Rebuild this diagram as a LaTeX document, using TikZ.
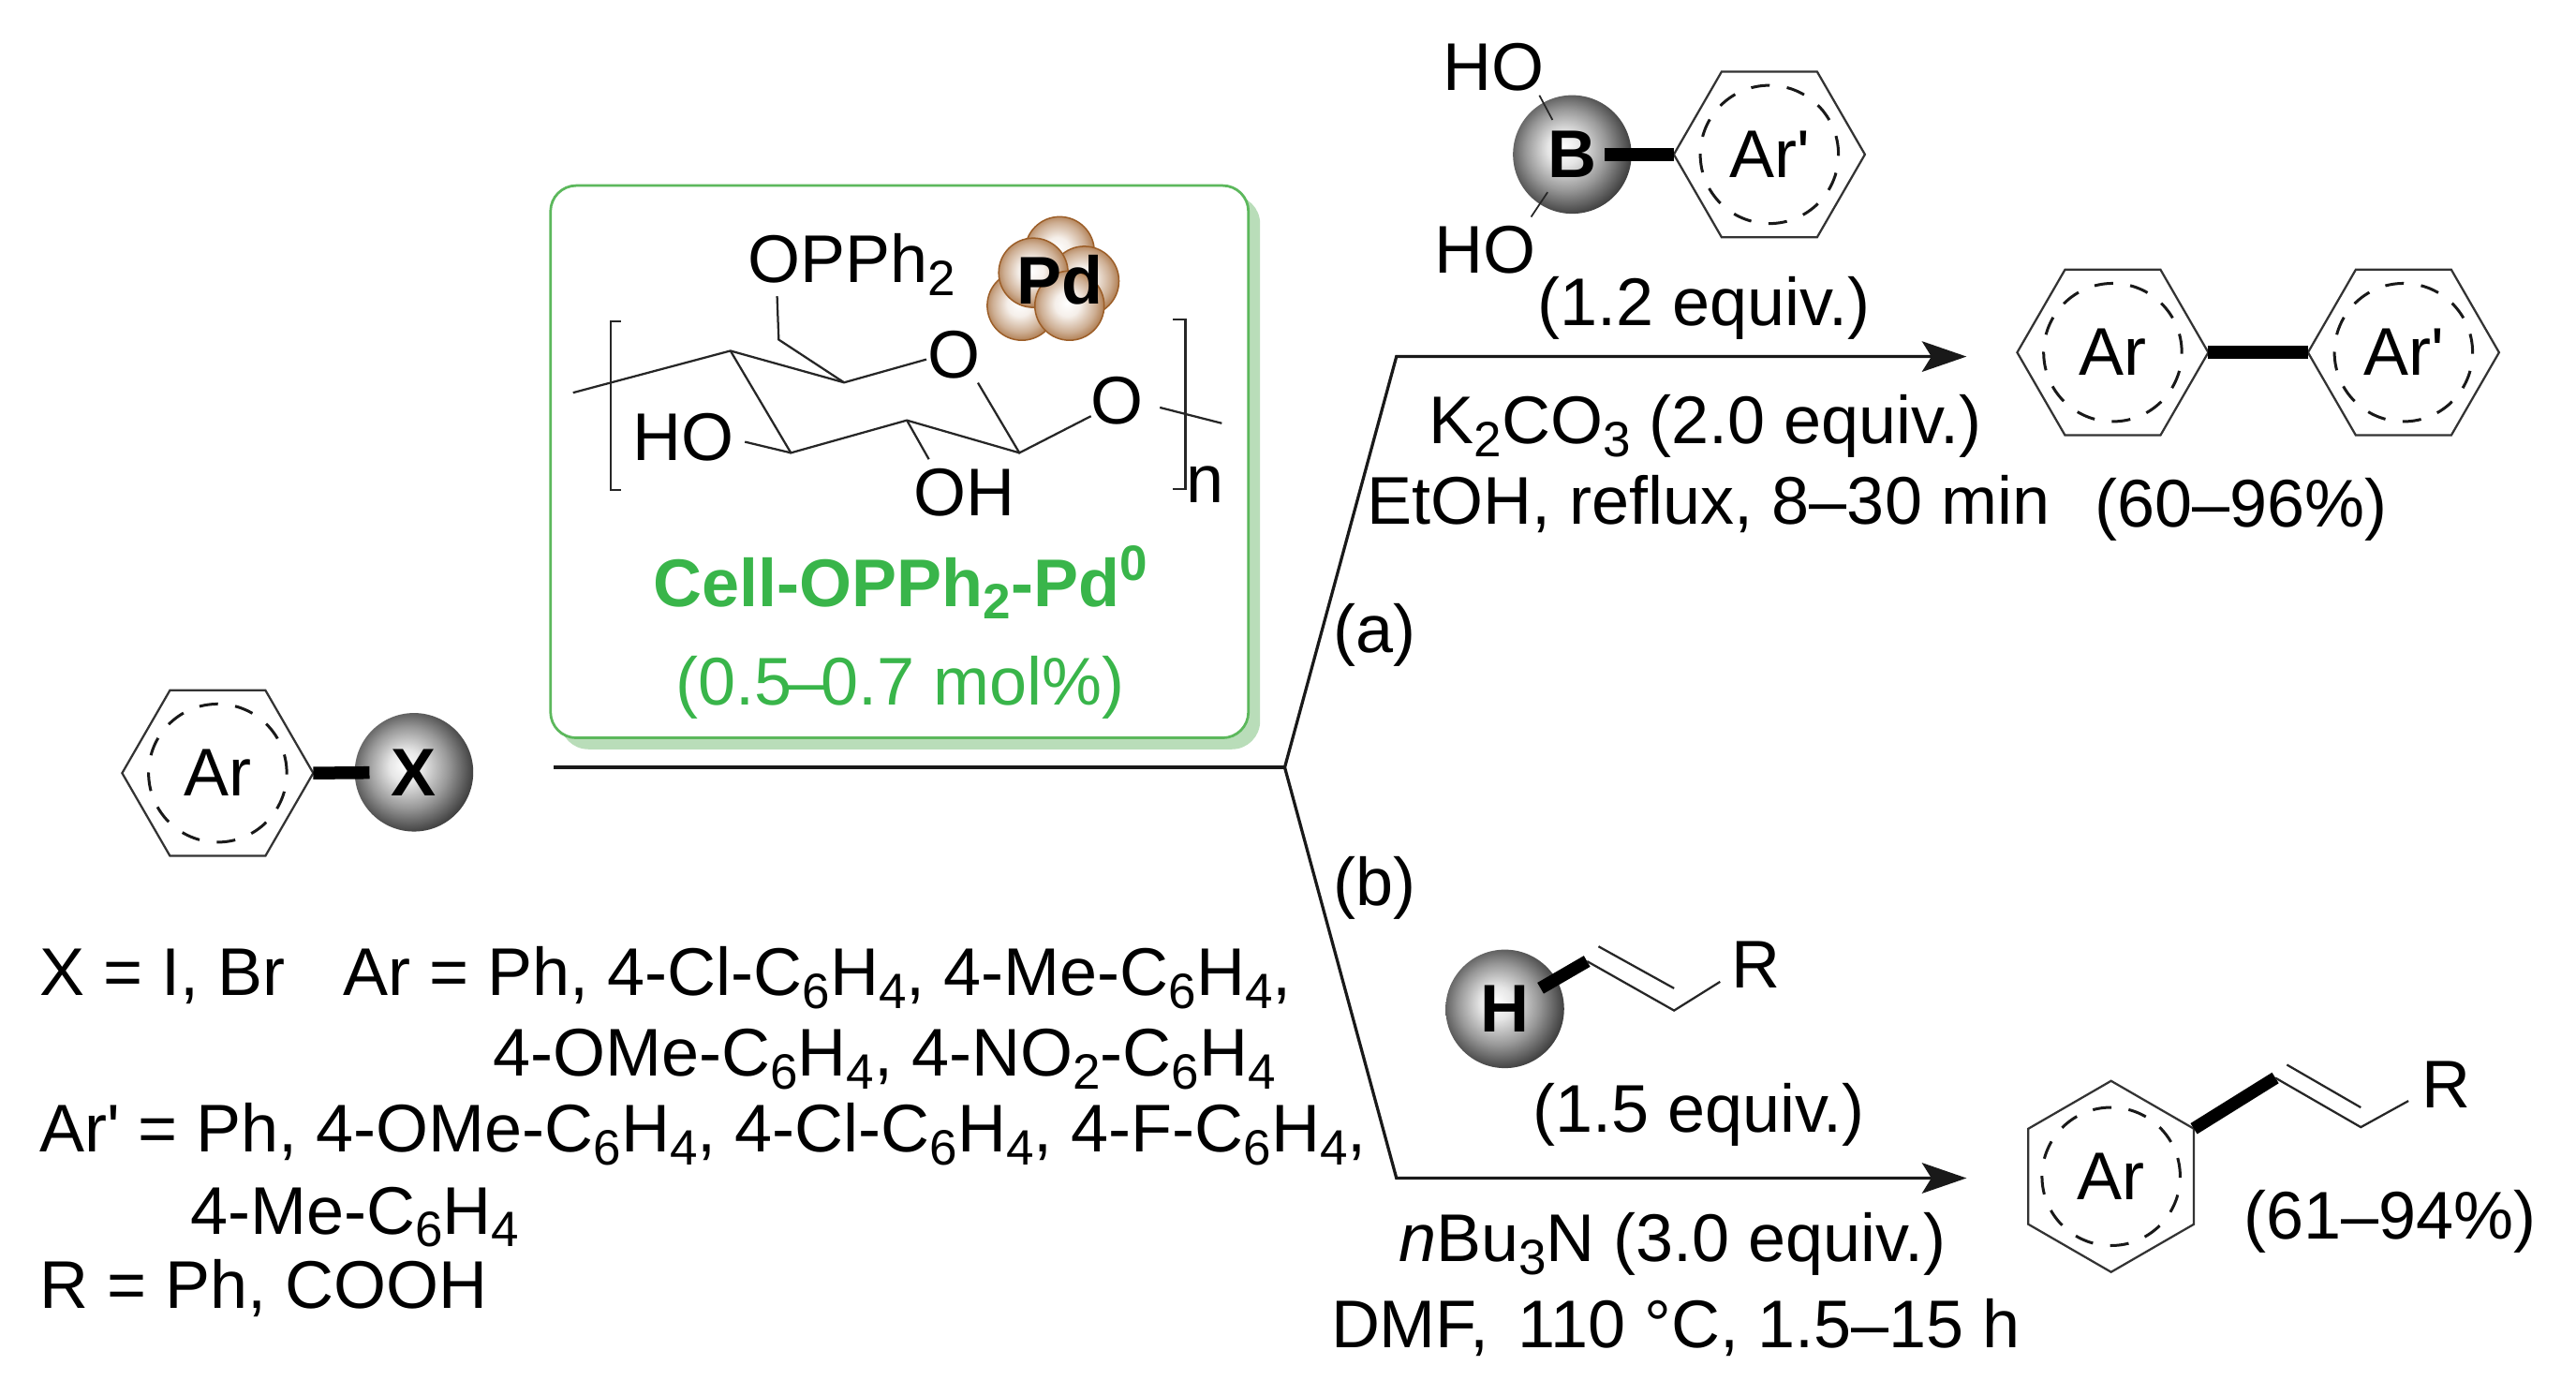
\documentclass[tikz,border=0pt]{standalone}
\usepackage{fontspec}
\setmainfont{Liberation Sans}
\newfontfamily\plainsans{Liberation Sans}
\usetikzlibrary{arrows.meta,shapes.geometric}
\definecolor{boxgreen}{HTML}{5CB85C}
\definecolor{shadowgreen}{HTML}{B9DDB9}
\definecolor{txtgreen}{HTML}{39B54A}
\definecolor{pdbrown}{HTML}{9C5E28}
\pgfdeclareradialshading{greyball}{\pgfpoint{-4bp}{3bp}}{color(0bp)=(white); color(7bp)=(white!90!black); color(17bp)=(black!40); color(26bp)=(black!72); color(34bp)=(black!95); color(38bp)=(black); color(50bp)=(black)}
\pgfdeclareradialshading{pdball}{\pgfpoint{-2bp}{1.5bp}}{color(0bp)=(white); color(9bp)=(white!90!pdbrown); color(20bp)=(pdbrown!50!white); color(30bp)=(pdbrown); color(50bp)=(pdbrown)}
\newcommand{\sbs}[1]{\raisebox{-0.36ex}{\fontsize{10.6}{10.6}\selectfont #1}}
\newcommand{\sps}[1]{\raisebox{0.72ex}{\fontsize{10.6}{10.6}\selectfont #1}}
\newcommand{\apos}{{\plainsans\symbol{39}}}
\tikzset{
 txt/.style={inner sep=0pt,outer sep=0pt,font=\fontsize{14.4}{14.4}\selectfont,anchor=base},
 ltxt/.style={txt,anchor=base west},
 grn/.style={txt,text=txtgreen},
 hexflat/.style={regular polygon,regular polygon sides=6,shape border rotate=0,draw=black!80,line width=0.45pt,minimum size=40.8pt,inner sep=0pt,outer sep=0pt,font=\fontsize{14.4}{14.4}\selectfont},
 hexup/.style={hexflat,shape border rotate=30},
 dashring/.style={circle,draw=black!90,line width=0.6pt,dash pattern=on 4pt off 3.7pt,minimum size=29.5pt,inner sep=0pt},
 sphere/.style={circle,shading=greyball,minimum size=25.3pt,inner sep=0pt,outer sep=0pt,font=\bfseries\fontsize{14.4}{14.4}\selectfont},
 pdsphere/.style={circle,shading=pdball,draw=pdbrown,line width=0.3pt,minimum size=14.8pt,inner sep=0pt},
 heavy/.style={line width=2.7pt,black},
 thin bond/.style={line width=0.45pt,black!85},
 rxn/.style={line width=0.65pt,black!90,-{Stealth[length=9.5pt,width=6.5pt,inset=2pt]}},
 plainrxn/.style={line width=0.65pt,black!90},
 tickb/.style={line width=0.35pt,black!85}
}
\begin{document}
\begin{tikzpicture}[x=0.35077pt,y=-0.35077pt]
\fill[white] (0,0) rectangle (1568,849);
\useasboundingbox (0,0) rectangle (1568,849);
% catalyst box
\fill[shadowgreen,rounded corners=6pt] (341,119) rectangle (767,456);
\node[draw=boxgreen,fill=white,line width=0.55pt,rounded corners=5.5pt,minimum width=149pt,minimum height=117.9pt,inner sep=0pt,outer sep=0pt] (box) at (547.5,281) {};
% sugar unit
\coordinate (c1) at (444.6,213.5);
\coordinate (c2) at (513.8,232.8);
\coordinate (c3) at (481.4,275.6);
\coordinate (c4) at (552,255.8);
\coordinate (c5) at (620.5,275.6);
\coordinate (cm) at (474,206.7);
\coordinate (t1) at (348.8,239);
\coordinate (t2) at (743.7,257.6);
\node[txt] (ringO) at (581,230) {O};
\node[txt] (linkO) at (680,258) {O};
\node[txt] (ho1) at (416,280) {HO};
\node[txt] (oh1) at (587,314) {OH};
\node[ltxt] (opph) at (455,172) {OPPh\sbs{2}};
\node[ltxt] (nn) at (722,306) {n};
\draw[thin bond] (t1) -- (c1) -- (c2) -- ([xshift=-6pt,yshift=-1pt]ringO.center);
\draw[thin bond] ([xshift=5pt,yshift=-6pt]ringO.center) -- (c5) -- ([xshift=-5.6pt,yshift=-3.3pt]linkO.center);
\draw[thin bond] (c1) -- (c3) -- (c4) -- (c5);
\draw[thin bond] (c3) -- (453.4,268.9);
\draw[thin bond] (c4) -- (565.4,279.5);
\draw[thin bond] (c2) -- (cm) -- (473,180.3);
\draw[thin bond] (706,248) -- (t2);
\draw[thin bond] (378,195.4) -- (371.8,195.4) -- (371.8,298) -- (378,298);
\draw[thin bond] (714,194.5) -- (721.6,194.5) -- (721.6,297.5) -- (714,297.5);
% Pd cluster
\node[pdsphere] (pd1) at (645,153) {};
\node[pdsphere] (pd2) at (622,186) {};
\node[pdsphere] (pd3) at (660,171) {};
\node[pdsphere] (pd4) at (629,166) {};
\node[pdsphere] (pd5) at (651,186) {};
\node[txt,font=\bfseries\fontsize{14.4}{14.4}\selectfont] (pdt) at (645,185) {Pd};
% catalyst labels
\node[grn,font=\bfseries\fontsize{14.4}{14.4}\selectfont] (cat) at (548,369) {Cell-OPPh\sbs{2}-Pd\sps{0}};
\node[grn] (mol) at (548,429) {(0.5\kern-0.9pt–\kern-0.9pt0.7 mol\%)};
% substrate
\node[hexflat] (arx) at (132.5,470.5) {Ar};
\node[dashring] (arxr) at (arx.center) {};
\node[sphere] (x) at (252,470) {X};
\draw[heavy] (arx.corner 6) -- (x.center) [shorten >=9.5pt];
% reaction lines
\coordinate (s) at (337,467);
\coordinate (j) at (782,467);
\coordinate (ua) at (850,217);
\coordinate (ub) at (1197,217);
\coordinate (da) at (850,717);
\coordinate (db) at (1197,717);
\draw[plainrxn] (s) -- (j);
\draw[rxn] (j) -- (ua) -- (ub);
\draw[rxn] (j) -- (da) -- (db);
\node[txt] (la) at (837,397) {(a)};
\node[txt] (lb) at (837,551) {(b)};
% boronic acid
\node[sphere] (b) at (957,94) {B};
\node[hexflat] (arb) at (1077,94) {Ar\apos};
\node[dashring] (arbr) at (arb.center) {};
\draw[heavy] (arb.corner 3) -- (b.center) [shorten >=7pt];
\node[txt] (hot) at (909,55) {HO};
\node[txt] (hob) at (904,166) {HO};
\draw[tickb] (937,58) -- (945,73);
\draw[tickb] (942,117) -- (932,132);
\node[txt] (eq1) at (1037,198) {(1.2 equiv.)};
\node[txt] (k2) at (1038,270) {K\sbs{2}CO\sbs{3} (2.0 equiv.)};
\node[txt] (etoh) at (1040,319) {EtOH, reflux, 8–30 min};
% biaryl
\node[hexflat] (pa) at (1286,214.5) {Ar};
\node[dashring] (par) at (pa.center) {};
\node[hexflat] (pb) at (1463,214.5) {Ar\apos};
\node[dashring] (pbr) at (pb.center) {};
\draw[heavy] (pa.corner 6) -- (pb.corner 3);
\node[txt] (y1) at (1364,321) {(60–96\%)};
% alkene
\node[sphere] (h) at (916,614) {H};
\coordinate (v1) at (966,585);
\coordinate (v2) at (1019,615);
\draw[heavy] (v1) -- (h.center) [shorten >=8.8pt];
\draw[thin bond] (v1) -- (v2) -- (1047,597.5);
\draw[thin bond] (973,576) -- (1019,601.5);
\node[txt] (r1) at (1069,601) {R};
\node[txt] (eq2) at (1034,689) {(1.5 equiv.)};
\node[txt] (nbu) at (1018,768) {\textit{n}Bu\sbs{3}N (3.0 equiv.)};
\node[txt] (dmf) at (1020,820) {DMF, \,110 °C, 1.5–15 h};
% styrene
\node[hexup] (ps) at (1285,716) {Ar};
\node[dashring] (psr) at (ps.center) {};
\coordinate (w1) at (1385,656);
\coordinate (w2) at (1437,686);
\draw[heavy] (ps.corner 6) -- (w1);
\draw[thin bond] (w1) -- (w2) -- (1466,670);
\draw[thin bond] (1392,648) -- (1437,674);
\node[txt] (r2) at (1489,674) {R};
\node[txt] (y2) at (1455,754) {(61–94\%)};
% legend
\node[ltxt] (l1) at (24,606) {X = I, Br};
\node[ltxt] (l1b) at (209,606) {Ar = Ph, 4-Cl-C\sbs{6}H\sbs{4}, 4-Me-C\sbs{6}H\sbs{4},};
\node[ltxt] (l2) at (300,655) {4-OMe-C\sbs{6}H\sbs{4}, 4-NO\sbs{2}-C\sbs{6}H\sbs{4}};
\node[ltxt] (l3) at (24,701) {Ar\apos{} = Ph, 4-OMe-C\sbs{6}H\sbs{4}, 4-Cl-C\sbs{6}H\sbs{4}, 4-F-C\sbs{6}H\sbs{4},};
\node[ltxt] (l4) at (116,751) {4-Me-C\sbs{6}H\sbs{4}};
\node[ltxt] (l5) at (24,796) {R = Ph, COOH};
\end{tikzpicture}
\end{document}
